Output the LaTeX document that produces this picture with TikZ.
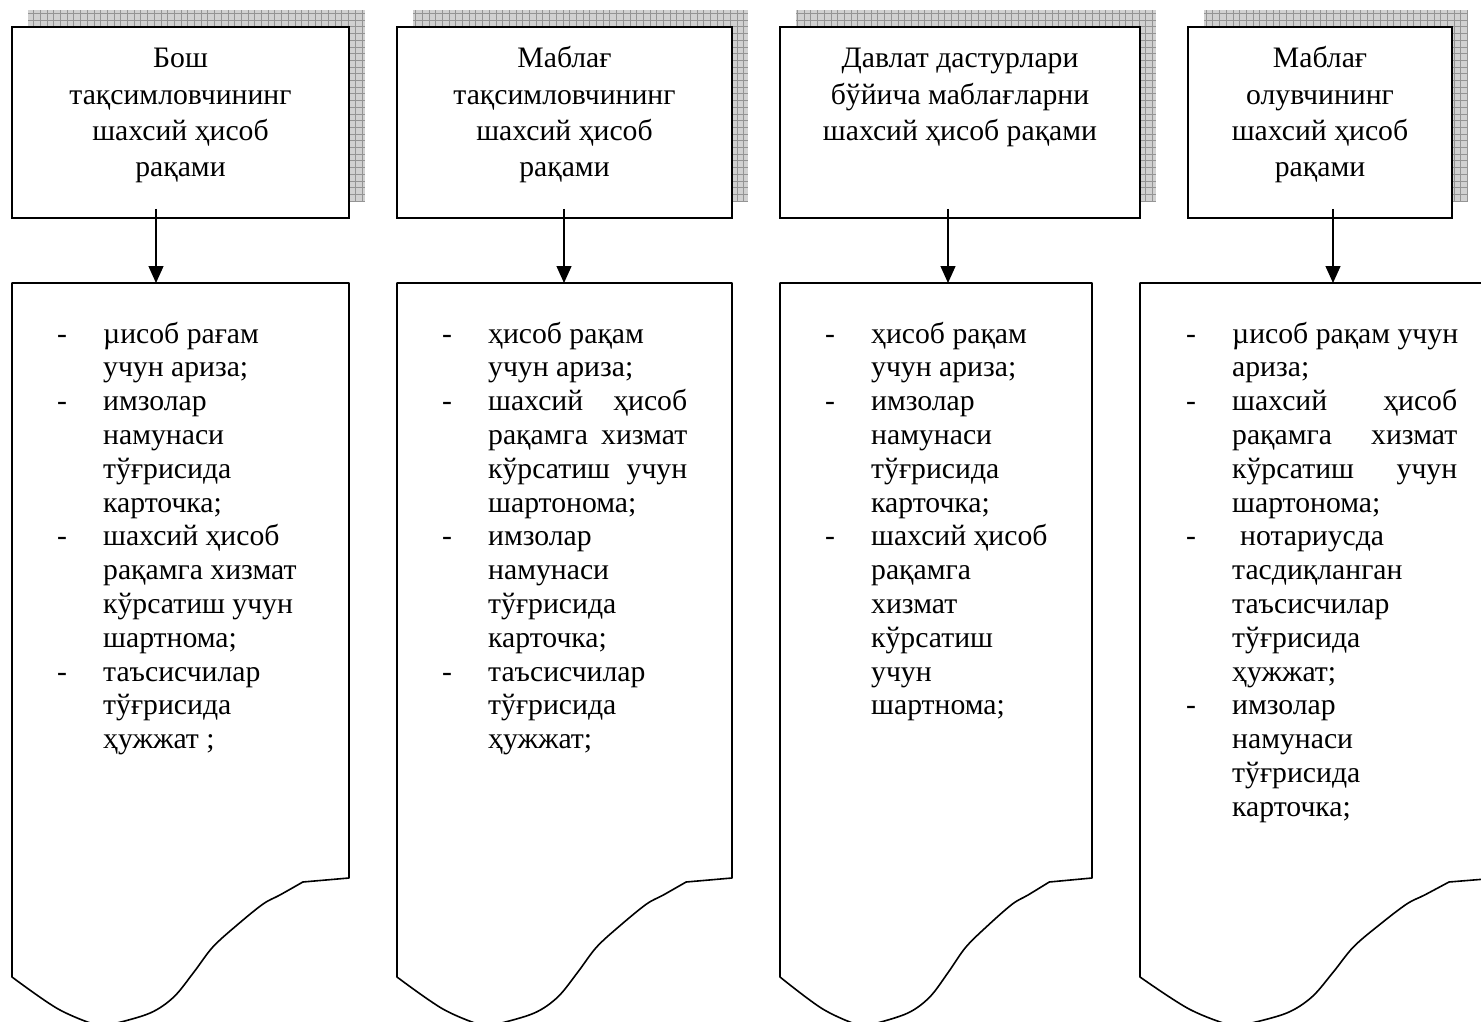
\documentclass[tikz,border=0pt]{standalone}
\usepackage{fontspec}
\setmainfont{Liberation Serif}
\usetikzlibrary{arrows.meta}
\newcommand{\htxt}[1]{\parbox[t]{400pt}{\centering\fontsize{29.7}{36.3}\selectfont #1}}
\newcommand{\dtxt}[1]{\parbox[t]{330pt}{\raggedright\fontsize{29.7}{33.8}\selectfont #1}}
\newcommand{\dsh}{\makebox[46pt][l]{-}}
\newcommand{\ind}{\hspace*{46pt}}
\newcommand{\jb}[1]{\makebox[199pt][s]{#1}}
\newcommand{\jd}[1]{\makebox[225pt][s]{#1}}
\newcommand{\docpath}[2]{%
  (#1,283) -- ({#1+#2},283) -- ({#1+#2},878) -- ({#1+0.863*#2},882)
  -- plot[smooth,tension=0.55] coordinates {({#1+0.863*#2},882) ({#1+0.795*#2},895) ({#1+0.745*#2},904) ({#1+0.668*#2},925) ({#1+0.596*#2},947) ({#1+0.54*#2},972) ({#1+0.48*#2},997) ({#1+0.41*#2},1013) ({#1+0.30*#2},1024) ({#1+0.26*#2},1026) ({#1+0.137*#2},1009) (#1,977)}
  -- cycle}
\tikzset{
  hbox/.style={draw=black, line width=1.8pt, fill=white, minimum height=191pt, inner sep=0pt},
  shadowfill/.style={fill=black!18},
  shadowgrid/.style={draw=black!42, line width=0.6pt},
  docbox/.style={draw=black, line width=1.6pt, fill=white, line join=round},
  arr/.style={draw=black, line width=1.3pt, -{Triangle[length=17pt,width=15pt]}},
  htext/.style={anchor=base, inner sep=0pt},
  dtext/.style={anchor=base west, inner sep=0pt}
}
\begin{document}
\begin{tikzpicture}[x=1pt,y=-1pt]
\useasboundingbox (0,0) rectangle (1481,1022);
\clip (0,0) rectangle (1481,1022);
% shadows
\foreach \xa/\xb in {28/365, 413/748, 796/1156, 1204/1468}{
  \fill[shadowfill] (\xa,10) rectangle (\xb,201);
  \begin{scope}
    \clip (\xa,10) rectangle (\xb,201);
    \draw[shadowgrid, step=6.7pt] (\xa,10) grid (\xb,201);
  \end{scope}
}
% header boxes
\node[hbox, minimum width=337pt] (h1) at (180.5,122.5) {};
\node[hbox, minimum width=335pt] (h2) at (564.5,122.5) {};
\node[hbox, minimum width=360pt] (h3) at (960,122.5) {};
\node[hbox, minimum width=264pt] (h4) at (1320,122.5) {};
\node[htext] (h1t) at (180.5,68) {\htxt{Бош\\тақсимловчининг\\шахсий ҳисоб\\рақами}};
\node[htext] (h2t) at (564.5,68) {\htxt{Маблағ\\тақсимловчининг\\шахсий ҳисоб\\рақами}};
\node[htext] (h3t) at (960,68) {\htxt{Давлат дастурлари\\бўйича маблағларни\\шахсий ҳисоб рақами}};
\node[htext] (h4t) at (1320,68) {\htxt{Маблағ\\олувчининг\\шахсий ҳисоб\\рақами}};
% document shapes
\draw[docbox] \docpath{12}{337};
\draw[docbox] \docpath{397}{335};
\draw[docbox] \docpath{780}{312};
\draw[docbox] \docpath{1140}{358};
\coordinate (d1) at (156,283);
\coordinate (d2) at (564,283);
\coordinate (d3) at (948,283);
\coordinate (d4) at (1333,283);
% arrows
\draw[arr] ([yshift=10pt]h1.south -| d1) -- (d1);
\draw[arr] ([yshift=10pt]h2.south -| d2) -- (d2);
\draw[arr] ([yshift=10pt]h3.south -| d3) -- (d3);
\draw[arr] ([yshift=10pt]h4.south -| d4) -- (d4);
% document texts
\node[dtext] (t1) at (57,343) {\dtxt{\dsh µисоб рағам\\
\ind учун ариза;\\
\dsh имзолар\\
\ind намунаси\\
\ind тўғрисида\\
\ind карточка;\\
\dsh шахсий ҳисоб\\
\ind рақамга хизмат\\
\ind кўрсатиш учун\\
\ind шартнома;\\
\dsh таъсисчилар\\
\ind тўғрисида\\
\ind ҳужжат ;}};
\node[dtext] (t2) at (442,343) {\dtxt{\dsh ҳисоб рақам\\
\ind учун ариза;\\
\dsh \jb{шахсий ҳисоб}\\
\ind \jb{рақамга хизмат}\\
\ind \jb{кўрсатиш учун}\\
\ind шартонома;\\
\dsh имзолар\\
\ind намунаси\\
\ind тўғрисида\\
\ind карточка;\\
\dsh таъсисчилар\\
\ind тўғрисида\\
\ind ҳужжат;}};
\node[dtext] (t3) at (825,343) {\dtxt{\dsh ҳисоб рақам\\
\ind учун ариза;\\
\dsh имзолар\\
\ind намунаси\\
\ind тўғрисида\\
\ind карточка;\\
\dsh шахсий ҳисоб\\
\ind рақамга\\
\ind хизмат\\
\ind кўрсатиш\\
\ind учун\\
\ind шартнома;}};
\node[dtext] (t4) at (1186,343) {\dtxt{\dsh µисоб рақам учун\\
\ind ариза;\\
\dsh \jd{шахсий ҳисоб}\\
\ind \jd{рақамга хизмат}\\
\ind \jd{кўрсатиш учун}\\
\ind шартонома;\\
\dsh\hspace{8pt}нотариусда\\
\ind тасдиқланган\\
\ind таъсисчилар\\
\ind тўғрисида\\
\ind ҳужжат;\\
\dsh имзолар\\
\ind намунаси\\
\ind тўғрисида\\
\ind карточка;}};
\end{tikzpicture}
\end{document}
